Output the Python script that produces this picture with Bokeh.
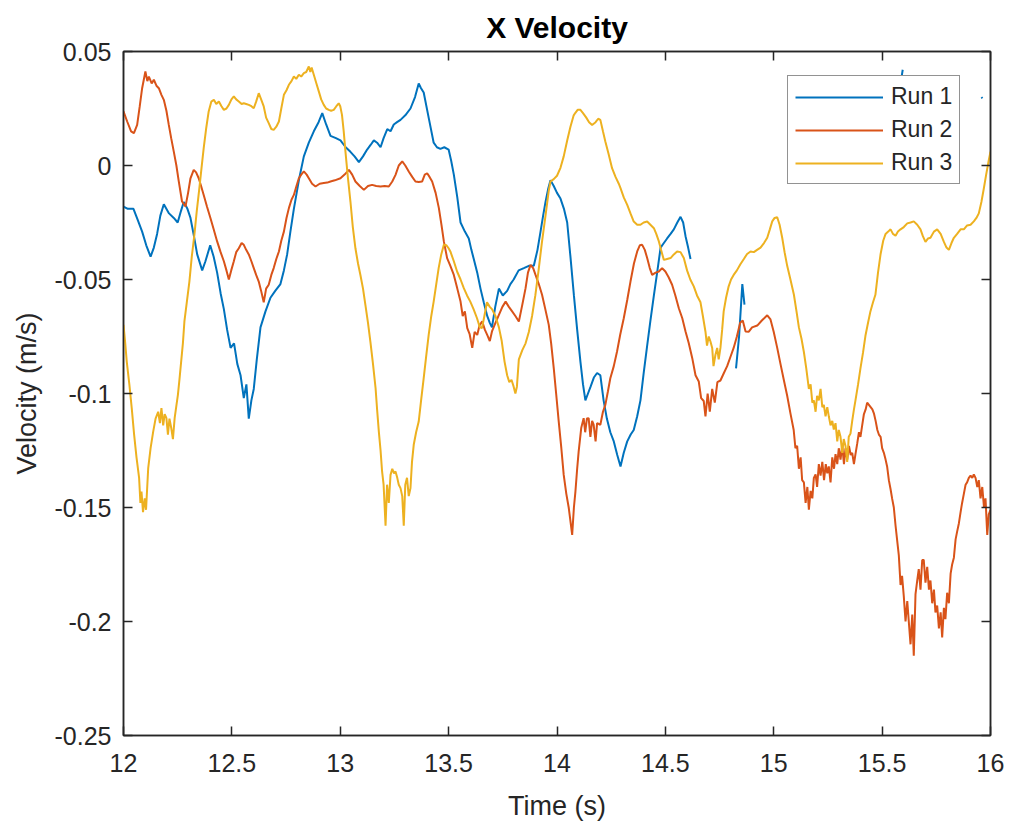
import numpy as np
from bokeh.plotting import figure
from bokeh.models import Range1d, FixedTicker, LinearAxis, Legend, LegendItem
from bokeh.embed import file_html
from bokeh.resources import INLINE

# ---------------- data ----------------
run1_t = [12.0, 12.02, 12.046, 12.066, 12.086, 12.105, 12.125, 12.14, 12.155, 12.17, 12.186, 12.21, 12.232, 12.25,
          12.265, 12.278, 12.295, 12.309, 12.325, 12.34, 12.363, 12.378, 12.4, 12.416, 12.432, 12.448, 12.463, 12.478,
          12.494, 12.51, 12.525, 12.54, 12.555, 12.567, 12.578, 12.59, 12.601, 12.615, 12.632, 12.655, 12.678, 12.70,
          12.724, 12.74, 12.755, 12.77, 12.786, 12.81, 12.832, 12.855, 12.878, 12.9, 12.917, 12.935, 12.955, 12.98,
          13.001, 13.025, 13.047, 13.066, 13.086, 13.105, 13.124, 13.14, 13.155, 13.17, 13.186, 13.2, 13.217, 13.232,
          13.247, 13.262, 13.278, 13.3, 13.324, 13.345, 13.362, 13.372, 13.385, 13.41, 13.431, 13.446, 13.462, 13.48,
          13.50, 13.512, 13.524, 13.54, 13.555, 13.575, 13.593, 13.605, 13.616, 13.632, 13.647, 13.662, 13.678, 13.69,
          13.70, 13.715, 13.732, 13.75, 13.77, 13.785, 13.80, 13.823, 13.847, 13.87, 13.893, 13.91, 13.924, 13.936,
          13.947, 13.96, 13.97, 13.985, 14.0, 14.016, 14.032, 14.047, 14.062, 14.078, 14.093, 14.108, 14.12, 14.131,
          14.143, 14.155, 14.17, 14.185, 14.20, 14.215, 14.23, 14.246, 14.262, 14.278, 14.293, 14.308, 14.324, 14.34,
          14.354, 14.37, 14.385, 14.40, 14.416, 14.431, 14.447, 14.462, 14.478, 14.493, 14.508, 14.524, 14.539, 14.555,
          14.57, 14.582, 14.593, 14.605, 14.616,
          14.62,
          14.826, 14.84, 14.855, 14.865,
          14.87,
          15.59, 15.595,
          15.6,
          15.958, 15.963]
run1_v = [-0.018, -0.019, -0.019, -0.024, -0.029, -0.035, -0.040, -0.036, -0.030, -0.022, -0.017, -0.021, -0.023, -0.025,
          -0.020, -0.016, -0.019, -0.023, -0.031, -0.039, -0.046, -0.042, -0.035, -0.040, -0.047, -0.056, -0.063, -0.072,
          -0.080, -0.078, -0.087, -0.092, -0.102, -0.096, -0.111, -0.103, -0.098, -0.085, -0.071, -0.064, -0.058, -0.055,
          -0.052, -0.046, -0.039, -0.029, -0.019, -0.006, 0.004, 0.010, 0.015, 0.019, 0.023, 0.018, 0.013, 0.012,
          0.011, 0.008, 0.006, 0.004, 0.0015, 0.004, 0.007, 0.009, 0.011, 0.010, 0.008, 0.012, 0.016, 0.015,
          0.018, 0.019, 0.020, 0.022, 0.025, 0.030, 0.036, 0.034, 0.032, 0.020, 0.010, 0.008, 0.0073, 0.008,
          0.007, 0.002, -0.004, -0.014, -0.025, -0.029, -0.032, -0.037, -0.041, -0.047, -0.054, -0.060, -0.066, -0.069,
          -0.071, -0.062, -0.054, -0.057, -0.055, -0.052, -0.050, -0.046, -0.045, -0.044, -0.044, -0.037, -0.029, -0.022,
          -0.016, -0.010, -0.0065, -0.009, -0.012, -0.0145, -0.019, -0.025, -0.040, -0.057, -0.072, -0.086, -0.096, -0.103,
          -0.100, -0.097, -0.093, -0.091, -0.092, -0.103, -0.111, -0.117, -0.121, -0.127, -0.132, -0.126, -0.121, -0.118,
          -0.116, -0.110, -0.103, -0.091, -0.079, -0.068, -0.057, -0.047, -0.036, -0.034, -0.032, -0.030, -0.028, -0.025,
          -0.0225, -0.025, -0.031, -0.036, -0.041,
          np.nan,
          -0.089, -0.075, -0.052, -0.061,
          np.nan,
          0.039, 0.042,
          np.nan,
          0.030, 0.0295]

run2_t = [12.0, 12.017, 12.035, 12.048, 12.063, 12.075, 12.086, 12.101, 12.11, 12.117, 12.13, 12.14, 12.152, 12.163,
          12.175, 12.186, 12.198, 12.209, 12.22, 12.232, 12.244, 12.255, 12.27, 12.286, 12.298, 12.309, 12.324, 12.335,
          12.347, 12.358, 12.37, 12.385, 12.401, 12.416, 12.432, 12.448, 12.463, 12.475, 12.486, 12.497, 12.509, 12.52,
          12.532, 12.545, 12.555, 12.566, 12.578, 12.59, 12.601, 12.612, 12.624, 12.635, 12.647, 12.658, 12.67, 12.682,
          12.693, 12.705, 12.717, 12.728, 12.74, 12.752, 12.763, 12.775, 12.786, 12.798, 12.809, 12.82, 12.832, 12.845,
          12.855, 12.87, 12.886, 12.905, 12.924, 12.94, 12.955, 12.975, 13.001, 13.02, 13.04, 13.055, 13.07, 13.09,
          13.109, 13.128, 13.147, 13.166, 13.186, 13.205, 13.224, 13.24, 13.255, 13.27, 13.286, 13.3, 13.316, 13.332,
          13.347, 13.362, 13.378, 13.39, 13.401, 13.412, 13.424, 13.44, 13.455, 13.467, 13.478, 13.493, 13.508, 13.524,
          13.54, 13.555, 13.565, 13.575, 13.586, 13.597, 13.609, 13.62, 13.632, 13.643, 13.655, 13.667, 13.678, 13.69,
          13.70, 13.716, 13.732, 13.748, 13.763, 13.778, 13.793, 13.808, 13.824, 13.84, 13.855, 13.866, 13.878, 13.89,
          13.901, 13.916, 13.931, 13.946, 13.962, 13.973, 13.985, 13.996, 14.008, 14.02, 14.031, 14.043, 14.054, 14.062,
          14.07, 14.078, 14.085, 14.093, 14.1, 14.112, 14.123, 14.13, 14.138, 14.146, 14.154, 14.162, 14.169, 14.178,
          14.185, 14.2, 14.212, 14.223, 14.235, 14.246, 14.262, 14.277, 14.292, 14.308, 14.324, 14.339, 14.355, 14.37,
          14.382, 14.393, 14.405, 14.416, 14.428, 14.439, 14.455, 14.47, 14.485, 14.5, 14.515, 14.531, 14.546, 14.562,
          14.578, 14.593, 14.608, 14.624, 14.639, 14.654, 14.665, 14.677, 14.685, 14.695, 14.705, 14.716, 14.728, 14.74,
          14.754, 14.77, 14.785, 14.8, 14.815, 14.83, 14.845, 14.857, 14.87, 14.885, 14.9, 14.924, 14.945, 14.97,
          14.985, 15.0, 15.016, 15.031, 15.047, 15.062, 15.077, 15.092, 15.1, 15.108, 15.116, 15.124, 15.131, 15.139,
          15.147, 15.155, 15.162, 15.17, 15.178, 15.185, 15.193, 15.2, 15.208, 15.216, 15.224, 15.232, 15.24, 15.247,
          15.254, 15.262, 15.27, 15.278, 15.285, 15.293, 15.3, 15.308, 15.316, 15.324, 15.331, 15.339, 15.347, 15.355,
          15.362, 15.37, 15.377, 15.385, 15.393, 15.4, 15.408, 15.416, 15.424, 15.431, 15.439, 15.447, 15.455, 15.462,
          15.47, 15.478, 15.485, 15.493, 15.5, 15.508, 15.516, 15.523, 15.531, 15.539, 15.546, 15.554, 15.562, 15.57,
          15.577, 15.585, 15.592, 15.6, 15.608, 15.616, 15.623, 15.631, 15.639, 15.646, 15.654, 15.662, 15.669, 15.677,
          15.685, 15.692, 15.7, 15.708, 15.716, 15.723, 15.731, 15.739, 15.746, 15.754, 15.762, 15.77, 15.777, 15.785,
          15.792, 15.8, 15.808, 15.816, 15.823, 15.831, 15.839, 15.846, 15.854, 15.862, 15.869, 15.877, 15.885, 15.892,
          15.9, 15.908, 15.916, 15.923, 15.931, 15.939, 15.946, 15.954, 15.962, 15.97, 15.977, 15.985, 15.992, 16.0]
run2_v = [0.0237, 0.0193, 0.015, 0.0142, 0.0178, 0.026, 0.0339, 0.0412, 0.037, 0.039, 0.036, 0.0376, 0.035, 0.0339,
          0.031, 0.0288, 0.024, 0.0178, 0.012, 0.0061, 0.000, -0.007, -0.0158, -0.018, -0.012, -0.0056, -0.0019, -0.003,
          -0.0056, -0.009, -0.0129, -0.018, -0.023, -0.028, -0.0333, -0.038, -0.042, -0.046, -0.050, -0.046, -0.042, -0.038,
          -0.0363, -0.034, -0.0348, -0.037, -0.039, -0.042, -0.045, -0.048, -0.0509, -0.055, -0.060, -0.054, -0.0523, -0.048,
          -0.045, -0.041, -0.0377, -0.033, -0.029, -0.023, -0.0187, -0.015, -0.0129, -0.009, -0.0056, -0.004, -0.0026, -0.004,
          -0.0056, -0.008, -0.0092, -0.008, -0.0077, -0.0075, -0.007, -0.0065, -0.0056, -0.004, -0.0019, -0.004, -0.007, -0.009,
          -0.0107, -0.009, -0.0085, -0.009, -0.0092, -0.009, -0.0092, -0.007, -0.0041, 0.000, 0.0018, 0.000, -0.0026, -0.005,
          -0.007, -0.0072, -0.007, -0.004, -0.0034, -0.005, -0.007, -0.012, -0.0187, -0.026, -0.0333, -0.0406, -0.044, -0.048,
          -0.054, -0.0597, -0.066, -0.064, -0.0713, -0.074, -0.080, -0.073, -0.0743, -0.070, -0.0684, -0.072, -0.0743, -0.077,
          -0.0728, -0.069, -0.0655, -0.062, -0.0597, -0.062, -0.064, -0.066, -0.0684, -0.061, -0.0538, -0.047, -0.0436, -0.045,
          -0.048, -0.052, -0.0567, -0.063, -0.0699, -0.078, -0.0889, -0.100, -0.1123, -0.124, -0.1357, -0.144, -0.150, -0.156,
          -0.162, -0.150, -0.143, -0.133, -0.1254, -0.115, -0.1108, -0.117, -0.111, -0.1108, -0.119, -0.112, -0.1137, -0.121,
          -0.113, -0.1137, -0.108, -0.105, -0.099, -0.0933, -0.088, -0.0816, -0.074, -0.067, -0.059, -0.0509, -0.043, -0.0377,
          -0.035, -0.0348, -0.037, -0.0406, -0.045, -0.048, -0.047, -0.0465, -0.045, -0.0465, -0.049, -0.0523, -0.057, -0.0626,
          -0.067, -0.0728, -0.078, -0.0845, -0.092, -0.0947, -0.102, -0.1033, -0.110, -0.100, -0.108, -0.098, -0.104, -0.095,
          -0.0943, -0.091, -0.088, -0.084, -0.080, -0.075, -0.069, -0.068, -0.0728, -0.0729, -0.071, -0.0702, -0.068, -0.0657,
          -0.0675, -0.073, -0.080, -0.087, -0.0943, -0.101, -0.1087, -0.116, -0.124, -0.123, -0.133, -0.128, -0.138, -0.139,
          -0.148, -0.141, -0.151, -0.1427, -0.146, -0.137, -0.1355, -0.141, -0.131, -0.136, -0.130, -0.138, -0.131, -0.135,
          -0.132, -0.139, -0.128, -0.133, -0.1266, -0.131, -0.124, -0.129, -0.123, -0.131, -0.124, -0.129, -0.123, -0.127,
          -0.126, -0.131, -0.1266, -0.122, -0.117, -0.119, -0.114, -0.109, -0.107, -0.104, -0.105, -0.106, -0.107, -0.1087,
          -0.112, -0.116, -0.118, -0.119, -0.124, -0.126, -0.129, -0.132, -0.138, -0.142, -0.146, -0.150, -0.158, -0.165,
          -0.171, -0.184, -0.180, -0.189, -0.200, -0.191, -0.200, -0.210, -0.197, -0.215, -0.188, -0.182, -0.177, -0.186,
          -0.173, -0.173, -0.183, -0.176, -0.186, -0.182, -0.192, -0.186, -0.196, -0.193, -0.203, -0.196, -0.207, -0.194,
          -0.199, -0.1874, -0.192, -0.179, -0.175, -0.172, -0.164, -0.1606, -0.157, -0.152, -0.148, -0.144, -0.140, -0.139,
          -0.137, -0.136, -0.137, -0.1355, -0.137, -0.141, -0.138, -0.146, -0.141, -0.150, -0.146, -0.162, -0.153, -0.151]

run3_t = [12.0, 12.008, 12.015, 12.027, 12.038, 12.049, 12.06, 12.072, 12.078, 12.083, 12.09, 12.098, 12.104, 12.114,
          12.125, 12.137, 12.148, 12.16, 12.168, 12.175, 12.183, 12.19, 12.198, 12.205, 12.212, 12.22, 12.228, 12.236,
          12.243, 12.251, 12.258, 12.266, 12.274, 12.281, 12.292, 12.304, 12.315, 12.327, 12.338, 12.35, 12.36, 12.37,
          12.381, 12.393, 12.405, 12.417, 12.428, 12.44, 12.452, 12.463, 12.475, 12.486, 12.498, 12.509, 12.52, 12.532,
          12.545, 12.555, 12.566, 12.578, 12.59, 12.601, 12.612, 12.624, 12.635, 12.647, 12.658, 12.67, 12.682, 12.693,
          12.705, 12.717, 12.728, 12.74, 12.752, 12.763, 12.775, 12.786, 12.797, 12.809, 12.82, 12.832, 12.843, 12.855,
          12.862, 12.868, 12.878, 12.89, 12.901, 12.912, 12.924, 12.935, 12.947, 12.958, 12.97, 12.982, 12.993, 13.0,
          13.008, 13.016, 13.024, 13.035, 13.047, 13.058, 13.07, 13.082, 13.093, 13.105, 13.116, 13.128, 13.139, 13.151,
          13.163, 13.17, 13.178, 13.186, 13.193, 13.2, 13.209, 13.216, 13.224, 13.232, 13.24, 13.248, 13.255, 13.263,
          13.27, 13.278, 13.286, 13.293, 13.3, 13.308, 13.316, 13.324, 13.331, 13.339, 13.35, 13.362, 13.373, 13.385,
          13.396, 13.408, 13.42, 13.431, 13.443, 13.454, 13.466, 13.478, 13.49, 13.5, 13.508, 13.524, 13.539, 13.555,
          13.57, 13.585, 13.6, 13.615, 13.631, 13.644, 13.654, 13.665, 13.677, 13.69, 13.7, 13.716, 13.732, 13.745,
          13.758, 13.77, 13.78, 13.79, 13.8, 13.808, 13.815, 13.824, 13.84, 13.855, 13.87, 13.885, 13.9, 13.915,
          13.93, 13.947, 13.962, 13.97, 13.985, 14.0, 14.016, 14.031, 14.047, 14.062, 14.077, 14.084, 14.096, 14.108,
          14.12, 14.135, 14.148, 14.162, 14.178, 14.19, 14.2, 14.212, 14.223, 14.238, 14.254, 14.27, 14.285, 14.293,
          14.308, 14.324, 14.339, 14.354, 14.37, 14.385, 14.4, 14.416, 14.431, 14.447, 14.458, 14.47, 14.48, 14.493,
          14.508, 14.524, 14.539, 14.554, 14.57, 14.585, 14.6, 14.615, 14.631, 14.646, 14.662, 14.673, 14.685, 14.692,
          14.7, 14.708, 14.716, 14.722, 14.731, 14.739, 14.746, 14.754, 14.762, 14.769, 14.78, 14.792, 14.803, 14.815,
          14.83, 14.846, 14.862, 14.877, 14.893, 14.908, 14.923, 14.939, 14.955, 14.97, 14.982, 14.993, 15.004, 15.016,
          15.027, 15.039, 15.05, 15.062, 15.077, 15.093, 15.105, 15.116, 15.128, 15.139, 15.15, 15.162, 15.17, 15.178,
          15.185, 15.193, 15.2, 15.208, 15.216, 15.224, 15.231, 15.239, 15.247, 15.254, 15.262, 15.27, 15.277, 15.285,
          15.293, 15.3, 15.308, 15.316, 15.323, 15.331, 15.339, 15.346, 15.354, 15.362, 15.37, 15.377, 15.389, 15.4,
          15.412, 15.423, 15.435, 15.446, 15.458, 15.469, 15.481, 15.493, 15.505, 15.516, 15.528, 15.539, 15.55, 15.562,
          15.573, 15.585, 15.6, 15.616, 15.631, 15.646, 15.662, 15.677, 15.688, 15.7, 15.712, 15.723, 15.739, 15.754,
          15.77, 15.785, 15.797, 15.808, 15.82, 15.831, 15.846, 15.862, 15.877, 15.892, 15.908, 15.923, 15.935, 15.946,
          15.958, 15.969, 15.98, 15.992, 16.0]
run3_v = [-0.0699, -0.078, -0.086, -0.096, -0.1064, -0.118, -0.128, -0.137, -0.148, -0.143, -0.152, -0.146, -0.151, -0.1327,
          -0.124, -0.1167, -0.111, -0.108, -0.113, -0.1064, -0.114, -0.109, -0.1108, -0.118, -0.111, -0.115, -0.120, -0.1108,
          -0.106, -0.1006, -0.094, -0.086, -0.078, -0.0684, -0.060, -0.0509, -0.040, -0.0304, -0.020, -0.0099, -0.001, 0.0076,
          0.016, 0.0237, 0.028, 0.0288, 0.027, 0.0281, 0.026, 0.0244, 0.025, 0.0266, 0.029, 0.0303, 0.029, 0.0281,
          0.027, 0.0273, 0.027, 0.0266, 0.026, 0.0251, 0.028, 0.0317, 0.029, 0.0259, 0.021, 0.0186, 0.016, 0.0156,
          0.017, 0.0193, 0.025, 0.031, 0.033, 0.0354, 0.037, 0.039, 0.038, 0.0398, 0.039, 0.0405, 0.041, 0.0434,
          0.041, 0.043, 0.0398, 0.036, 0.0325, 0.029, 0.0266, 0.025, 0.0244, 0.024, 0.0244, 0.026, 0.0273, 0.026,
          0.0222, 0.015, 0.0061, -0.005, -0.0158, -0.027, -0.0363, -0.043, -0.048, -0.054, -0.0611, -0.069, -0.0772, -0.087,
          -0.0977, -0.107, -0.1167, -0.125, -0.1342, -0.140, -0.158, -0.140, -0.148, -0.1357, -0.133, -0.135, -0.1342, -0.137,
          -0.140, -0.1415, -0.145, -0.158, -0.140, -0.137, -0.145, -0.1415, -0.130, -0.1225, -0.117, -0.1123, -0.103, -0.0933,
          -0.084, -0.0743, -0.066, -0.0597, -0.052, -0.045, -0.039, -0.0348, -0.035, -0.0363, -0.0377, -0.042, -0.0465, -0.050,
          -0.0538, -0.057, -0.0597, -0.063, -0.067, -0.071, -0.0713, -0.066, -0.060, -0.062, -0.063, -0.066, -0.071, -0.077,
          -0.086, -0.092, -0.095, -0.094, -0.097, -0.100, -0.097, -0.085, -0.081, -0.078, -0.073, -0.066, -0.057, -0.046,
          -0.034, -0.022, -0.011, -0.007, -0.006, -0.0045, -0.001, 0.004, 0.011, 0.017, 0.022, 0.023, 0.0245, 0.0244,
          0.023, 0.021, 0.019, 0.0178, 0.019, 0.0205, 0.020, 0.015, 0.0105, 0.005, -0.0012, -0.005, -0.008, -0.0099,
          -0.014, -0.0173, -0.021, -0.0246, -0.026, -0.026, -0.025, -0.0246, -0.026, -0.0275, -0.030, -0.0333, -0.037, -0.0414,
          -0.041, -0.0406, -0.039, -0.0377, -0.038, -0.0406, -0.046, -0.050, -0.053, -0.057, -0.060, -0.066, -0.0729, -0.079,
          -0.075, -0.0772, -0.080, -0.088, -0.083, -0.080, -0.085, -0.080, -0.072, -0.064, -0.058, -0.053, -0.050, -0.048,
          -0.046, -0.0433, -0.041, -0.0388, -0.0377, -0.038, -0.037, -0.036, -0.034, -0.0317, -0.028, -0.0245, -0.023, -0.0227,
          -0.026, -0.0317, -0.038, -0.044, -0.050, -0.0567, -0.064, -0.071, -0.076, -0.0818, -0.089, -0.098, -0.096, -0.104,
          -0.103, -0.108, -0.101, -0.103, -0.098, -0.106, -0.105, -0.110, -0.106, -0.110, -0.114, -0.112, -0.1158, -0.113,
          -0.121, -0.116, -0.119, -0.126, -0.120, -0.123, -0.130, -0.119, -0.1176, -0.112, -0.107, -0.103, -0.096, -0.089,
          -0.082, -0.0747, -0.069, -0.064, -0.060, -0.0567, -0.047, -0.0388, -0.033, -0.030, -0.029, -0.028, -0.030, -0.0308,
          -0.029, -0.028, -0.027, -0.0254, -0.025, -0.0245, -0.026, -0.028, -0.031, -0.0335, -0.032, -0.0317, -0.029, -0.028,
          -0.030, -0.0335, -0.036, -0.037, -0.034, -0.0317, -0.030, -0.028, -0.028, -0.0263, -0.026, -0.0245, -0.023, -0.021,
          -0.016, -0.0102, -0.004, 0.0023, 0.006]

series_names = ["Run 1", "Run 2", "Run 3"]
x_ticks = [12, 12.5, 13, 13.5, 14, 14.5, 15, 15.5, 16]
x_tick_labels = ["12", "12.5", "13", "13.5", "14", "14.5", "15", "15.5", "16"]
y_ticks = [-0.25, -0.2, -0.15, -0.1, -0.05, 0, 0.05]
y_tick_labels = ["-0.25", "-0.2", "-0.15", "-0.1", "-0.05", "0", "0.05"]

# ---------------- styling ----------------
FONT = "Liberation Sans"
AX = "#262626"
COLORS = ["#0072BD", "#D95319", "#EDB120"]

p = figure(width=1009, height=825, output_backend="svg", toolbar_location=None,
           x_range=Range1d(12, 16), y_range=Range1d(-0.25, 0.05),
           min_border_left=123, min_border_right=19, min_border_top=49, min_border_bottom=90,
           x_axis_label="Time (s)", y_axis_label="Velocity (m/s)")

p.title.text = "X Velocity"
p.title.align = "center"
p.title.text_font = FONT
p.title.text_font_size = "30px"
p.title.text_font_style = "bold"
p.title.text_color = "#000000"
p.title.standoff = 16

p.xgrid.visible = False
p.ygrid.visible = False
p.outline_line_color = AX
p.outline_line_width = 1.5
p.background_fill_color = "white"
p.border_fill_color = "white"


def style_axis(ax, ticks, labels, show_labels=True):
    ax.ticker = FixedTicker(ticks=ticks)
    ax.major_tick_in = 9
    ax.major_tick_out = 0
    ax.minor_tick_line_color = None
    ax.major_tick_line_color = AX
    ax.major_tick_line_width = 1.5
    ax.axis_line_color = AX
    ax.axis_line_width = 1.5
    if show_labels:
        ax.major_label_overrides = {t: l for t, l in zip(ticks, labels)}
        ax.major_label_text_font = FONT
        ax.major_label_text_color = AX
        ax.major_label_text_font_size = "25px"
        ax.axis_label_text_font = FONT
        ax.axis_label_text_color = AX
        ax.axis_label_text_font_style = "normal"
        ax.axis_label_text_font_size = "27px"
    else:
        ax.major_label_text_color = None
        ax.major_label_text_font_size = "1px"
        ax.major_label_standoff = 0


style_axis(p.xaxis[0], x_ticks, x_tick_labels)
style_axis(p.yaxis[0], y_ticks, y_tick_labels)
p.xaxis[0].major_label_standoff = 18
p.xaxis[0].axis_label_standoff = 16
p.yaxis[0].major_label_standoff = 12
p.yaxis[0].axis_label_standoff = 10

top_ax = LinearAxis()
right_ax = LinearAxis()
style_axis(top_ax, x_ticks, x_tick_labels, show_labels=False)
style_axis(right_ax, y_ticks, y_tick_labels, show_labels=False)
p.add_layout(top_ax, "above")
p.add_layout(right_ax, "right")

renderers = []
for t, v, c in [(run1_t, run1_v, COLORS[0]), (run2_t, run2_v, COLORS[1]), (run3_t, run3_v, COLORS[2])]:
    r = p.line(np.array(t, dtype=float), np.array(v, dtype=float), line_color=c, line_width=2)
    renderers.append(r)

legend = Legend(items=[LegendItem(label=n, renderers=[r]) for n, r in zip(series_names, renderers)],
                location=(664, 551))
legend.label_text_font = FONT
legend.label_text_font_size = "23px"
legend.label_text_color = AX
legend.glyph_width = 88
legend.glyph_height = 24
legend.label_standoff = 8
legend.padding = 7
legend.spacing = 6
legend.margin = 0
legend.border_line_color = AX
legend.border_line_width = 1.5
legend.background_fill_alpha = 1.0
p.add_layout(legend, "center")

open("out.html", "w").write(file_html(p, INLINE))
